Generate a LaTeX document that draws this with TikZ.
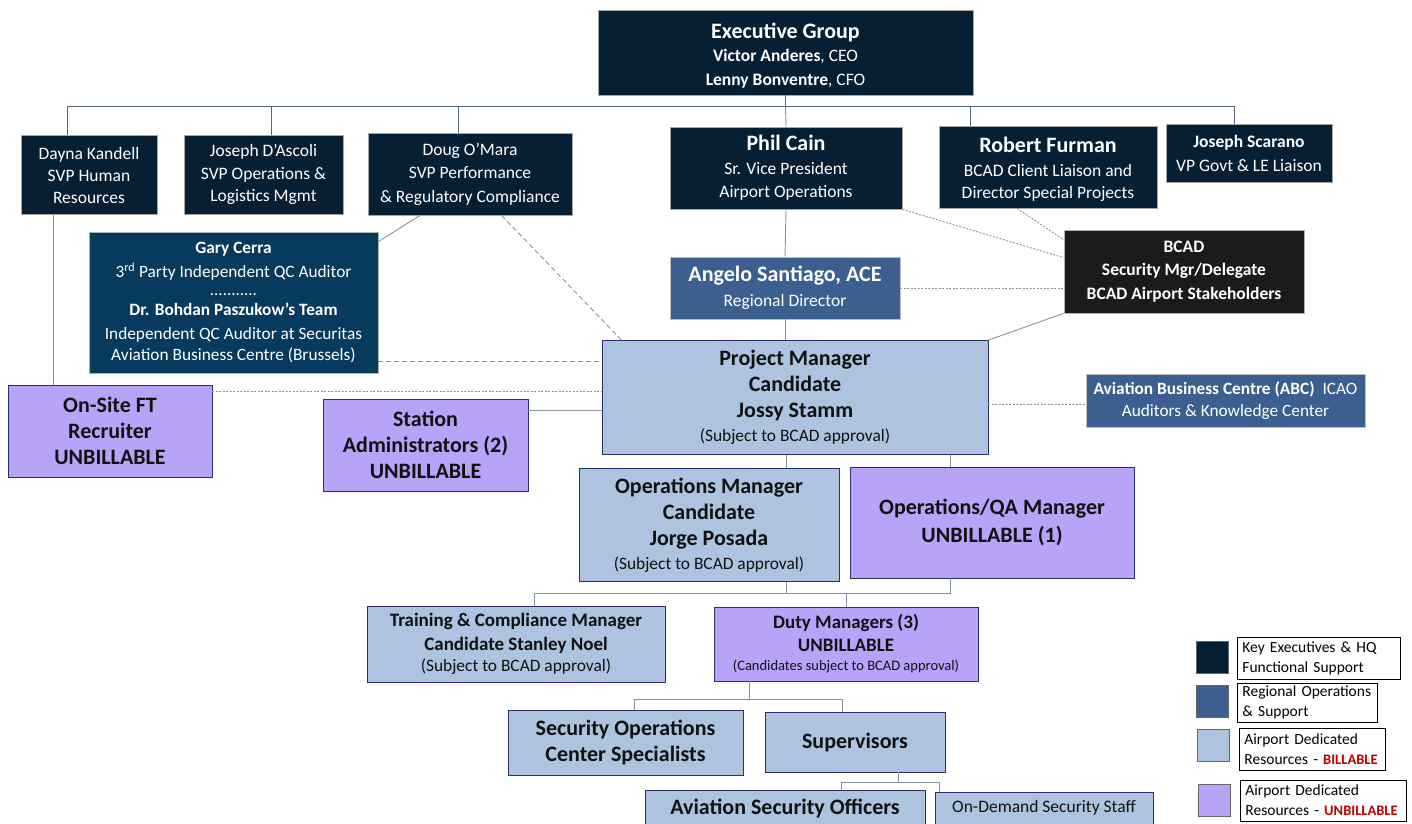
\documentclass[tikz,border=0pt]{standalone}
\usepackage{fontspec}
\setmainfont{Carlito}
\usetikzlibrary{positioning}
\definecolor{execnavy}{HTML}{061F33}
\definecolor{auditblue}{HTML}{073A5C}
\definecolor{regblue}{HTML}{3B5F8F}
\definecolor{billblue}{HTML}{ADC3DF}
\definecolor{unbillpurple}{HTML}{B9A3F8}
\definecolor{bcadblack}{HTML}{1B1B1B}
\definecolor{linkgray}{HTML}{8694A8}
\definecolor{busgray}{HTML}{52677E}
\definecolor{boxedge}{HTML}{2A2F6E}
\definecolor{inkblack}{HTML}{111111}
\definecolor{legendred}{HTML}{C00000}
\newcommand{\fs}[2]{\fontsize{#1}{#2}\selectfont}
\newcommand{\redword}[1]{{\color{legendred}\fs{14.5}{20}\bfseries #1}}
\begin{document}
\begin{tikzpicture}[x=1pt, y=-1pt,
    orgbox/.style={rectangle, align=center, inner sep=0pt, line width=0.8pt},
    execbox/.style={orgbox, fill=execnavy, draw=gray!70, text=white},
    auditbox/.style={orgbox, fill=auditblue, draw=gray!60, text=white},
    regionbox/.style={orgbox, fill=regblue, draw=gray!50, text=white},
    bcadbox/.style={orgbox, fill=bcadblack, draw=gray!60, text=white},
    billbox/.style={orgbox, fill=billblue, draw=boxedge, text=inkblack},
    unbillbox/.style={orgbox, fill=unbillpurple, draw=boxedge, text=inkblack},
    swatch/.style={rectangle, draw=gray!80!black, line width=0.8pt, minimum width=32pt, minimum height=32pt, inner sep=0pt},
    legendbox/.style={rectangle, draw=black, line width=0.8pt, align=left, inner xsep=5pt, inner ysep=0pt, anchor=west, font=\fs{15.5}{20}},
    link/.style={draw=linkgray, line width=0.9pt},
    buslink/.style={draw=busgray, line width=0.9pt},
    dashlink/.style={link, dash pattern=on 5pt off 3pt},
    dotlink/.style={link, dash pattern=on 2pt off 1.5pt}]
    \useasboundingbox (0,0) rectangle (1412,823);
    \clip (0,0) rectangle (1412,823);
    \fill[white] (0,0) rectangle (1412,823);

    % Nodes
    \node[execbox, minimum width=375pt, minimum height=85pt, font=\fs{17.5}{23.5}] (exec) at (785.5,52.5)
        {{\rule{0pt}{21pt}\fs{22}{24}\bfseries Executive Group}\\
         \textbf{Victor Anderes}, CEO\\
         \textbf{Lenny Bonventre}, CFO};
    \node[execbox, minimum width=136pt, minimum height=79pt, font=\fs{17.5}{22}] (dayna) at (89,175)
        {Dayna Kandell\\SVP Human\\Resources};
    \node[execbox, minimum width=159pt, minimum height=79pt, font=\fs{17.5}{22.5}] (dascoli) at (263.5,174.5)
        {Joseph D’Ascoli\\SVP Operations \&\\Logistics Mgmt};
    \node[execbox, minimum width=204pt, minimum height=82pt, font=\fs{17.5}{23.5}] (omara) at (470,174)
        {Doug O’Mara\\SVP Performance\\\& Regulatory Compliance};
    \node[execbox, minimum width=232pt, minimum height=82pt, font=\fs{17.5}{23.5}] (cain) at (786,168)
        {{\fs{22}{24}\bfseries Phil Cain}\\Sr. Vice President\\Airport Operations};
    \node[execbox, minimum width=218pt, minimum height=82pt, font=\fs{17.5}{22}] (furman) at (1048,167)
        {{\rule{0pt}{19pt}\fs{22}{24}\bfseries Robert Furman}\\[2pt]BCAD Client Liaison and\\Director Special Projects};
    \node[execbox, minimum width=166pt, minimum height=58pt, font=\fs{17.5}{24}] (scarano) at (1249,153)
        {\textbf{Joseph Scarano}\\VP Govt \& LE Liaison};
    \node[auditbox, minimum width=289pt, minimum height=141pt, font=\fs{17.3}{24}] (cerra) at (233.5,302.5)
        {\textbf{Gary Cerra}\\3\textsuperscript{rd} Party Independent QC Auditor\\[-6pt]
         {\fs{17}{17}...........}\\[-4pt]\textbf{Dr. Bohdan Paszukow’s Team}\\
         Independent QC Auditor at Securitas\\[-3pt]Aviation Business Centre (Brussels)};
    \node[regionbox, minimum width=230pt, minimum height=62pt, font=\fs{17.5}{25}] (santiago) at (785,288)
        {{\fs{22}{24}\bfseries Angelo Santiago, ACE}\\Regional Director};
    \node[bcadbox, minimum width=240pt, minimum height=83pt, font=\fs{17.5}{23.5}\bfseries] (bcad) at (1184,271.5)
        {BCAD\\Security Mgr/Delegate\\BCAD Airport Stakeholders};
    \node[billbox, minimum width=386pt, minimum height=114pt, font=\fs{22}{26}\bfseries] (pm) at (795,397.5)
        {Project Manager\\Candidate\\Jossy Stamm\\[-2pt]{\fs{17.4}{18}\mdseries (Subject to BCAD approval)}};
    \node[regionbox, minimum width=279pt, minimum height=53pt, font=\fs{17.3}{21.5}] (abc) at (1225.5,400.5)
        {\textbf{Aviation Business Centre (ABC)}\ \ ICAO\\Auditors \& Knowledge Center};
    \node[unbillbox, minimum width=204pt, minimum height=92pt, font=\fs{22}{26}\bfseries] (onsite) at (110,431)
        {On-Site FT\\Recruiter\\UNBILLABLE};
    \node[unbillbox, minimum width=205pt, minimum height=92pt, font=\fs{22}{26}\bfseries] (station) at (425.5,445)
        {Station\\Administrators (2)\\UNBILLABLE};
    \node[billbox, minimum width=260pt, minimum height=113pt, font=\fs{22}{26}\bfseries] (opsmgr) at (709,525)
        {Operations Manager\\Candidate\\Jorge Posada\\[-2pt]{\fs{17.4}{18}\mdseries (Subject to BCAD approval)}};
    \node[unbillbox, minimum width=284pt, minimum height=111pt, font=\fs{22}{28}\bfseries] (qamgr) at (992,522.5)
        {Operations/QA Manager\\UNBILLABLE (1)};
    \node[billbox, minimum width=298pt, minimum height=76pt, font=\fs{19}{23.5}\bfseries] (training) at (516,644)
        {Training \& Compliance Manager\\Candidate Stanley Noel\\[-2pt]{\fs{17.4}{18}\mdseries (Subject to BCAD approval)}};
    \node[unbillbox, minimum width=264pt, minimum height=74pt, font=\fs{19}{23}\bfseries] (duty) at (846,644)
        {Duty Managers (3)\\UNBILLABLE\\[-4pt]{\fs{14.5}{16}\mdseries (Candidates subject to BCAD approval)}};
    \node[billbox, minimum width=235pt, minimum height=65pt, font=\fs{22}{26}\bfseries] (soc) at (625.5,742.5)
        {Security Operations\\Center Specialists};
    \node[billbox, minimum width=180pt, minimum height=60pt, font=\fs{22}{26}\bfseries] (sup) at (855,742)
        {Supervisors};
    \node[billbox, minimum width=280pt, minimum height=36pt, font=\fs{22}{26}\bfseries] (aso) at (785,808)
        {Aviation Security Officers};
    \node[billbox, minimum width=218pt, minimum height=32pt, font=\fs{17.5}{20}] (ondemand) at (1044,808)
        {On-Demand Security Staff};

    % Legend
    \node[swatch, fill=execnavy] (keyexec) at (1212,657) {};
    \node[legendbox, minimum width=163pt, minimum height=42pt, text width=153pt] (keyexectext) at (1237,658)
        {\mbox{Key Executives \& HQ}\\\mbox{Functional Support}};
    \node[swatch, fill=regblue] (keyreg) at (1212.5,701) {};
    \node[legendbox, minimum width=140pt, minimum height=39pt, text width=130pt] (keyregtext) at (1237,702.5)
        {\mbox{Regional Operations}\\\mbox{\& Support}};
    \node[swatch, fill=billblue] (keybill) at (1213.5,745) {};
    \node[legendbox, minimum width=146pt, minimum height=42pt, text width=136pt] (keybilltext) at (1239,749)
        {\mbox{Airport Dedicated}\\\mbox{Resources - \redword{BILLABLE}}};
    \node[swatch, fill=unbillpurple] (keyunbill) at (1214.5,800) {};
    \node[legendbox, minimum width=166pt, minimum height=41pt, text width=156pt] (keyunbilltext) at (1240,800.5)
        {\mbox{Airport Dedicated}\\\mbox{Resources - \redword{UNBILLABLE}}};

    % Lines
    \draw[buslink] (exec.south) -- ++(0,11) coordinate (topbus);
    \draw[buslink] ([xshift=-22pt]dayna.north) |- (topbus);
    \draw[buslink] ([xshift=7.5pt]dascoli.north) |- (topbus);
    \draw[buslink] ([xshift=-12pt]omara.north) |- (topbus);
    \draw[buslink] ([xshift=-78pt]furman.north) |- (topbus);
    \draw[buslink] ([xshift=-15pt]scarano.north) |- (topbus);
    \draw[link] (topbus) -- (cain.north);
    \draw[link] ([xshift=-36pt]dayna.south) coordinate (dk) -- (dk |- onsite.north);
    \draw[link] ([xshift=-50pt]omara.south) -- ([yshift=-10pt]cerra.north east);
    \draw[dashlink] ([xshift=31.5pt]omara.south) -- ([xshift=20pt]pm.north west);
    \draw[dashlink] ([yshift=12pt]cerra.south east) coordinate (cq) -- (cq -| pm.west);
    \draw[dotlink] ([yshift=-7pt]onsite.north east) coordinate (rq) -- (rq -| pm.west);
    \draw[link] ([yshift=-12pt]station.north east) coordinate (sa) -- (sa -| pm.west);
    \draw[link] (cain.south) -- (santiago.north);
    \draw[link] (santiago.south) -- (santiago.south |- pm.north);
    \draw[dotlink] (cain.south east) -- ([yshift=-28pt]bcad.north west);
    \draw[dotlink] ([xshift=-31pt]furman.south) -- ([yshift=-10pt]bcad.north west);
    \draw[dotlink] (santiago.east) -- (santiago.east -| bcad.west);
    \draw[link] (bcad.south west) -- (pm.north east);
    \draw[dotlink] ([yshift=-7pt]pm.east) coordinate (pa) -- (pa -| abc.west);
    \draw[link] ([xshift=-8.5pt]pm.south) coordinate (po) -- (po |- opsmgr.north);
    \draw[link] ([xshift=155pt]pm.south) coordinate (pq) -- (pq |- qamgr.north);
    \draw[link] ([xshift=77pt]opsmgr.south) -- ++(0,12) coordinate (midbus);
    \draw[link] ([xshift=-42pt]qamgr.south) |- (midbus);
    \draw[link] ([xshift=18.5pt]training.north) |- (midbus);
    \draw[link] (duty.north) |- (midbus);
    \draw[link] ([xshift=-97pt]duty.south) -- ++(0,18) coordinate (dutybus);
    \draw[link] ([xshift=8.5pt]soc.north) |- (dutybus);
    \draw[link] ([xshift=-13pt]sup.north) |- (dutybus);
    \draw[link] ([xshift=43pt]sup.south) -- ++(0,10) coordinate (supbus);
    \draw[link] ([xshift=56pt]aso.north) |- (supbus);
    \draw[link] ([xshift=-105pt]ondemand.north) |- (supbus);
\end{tikzpicture}
\end{document}
